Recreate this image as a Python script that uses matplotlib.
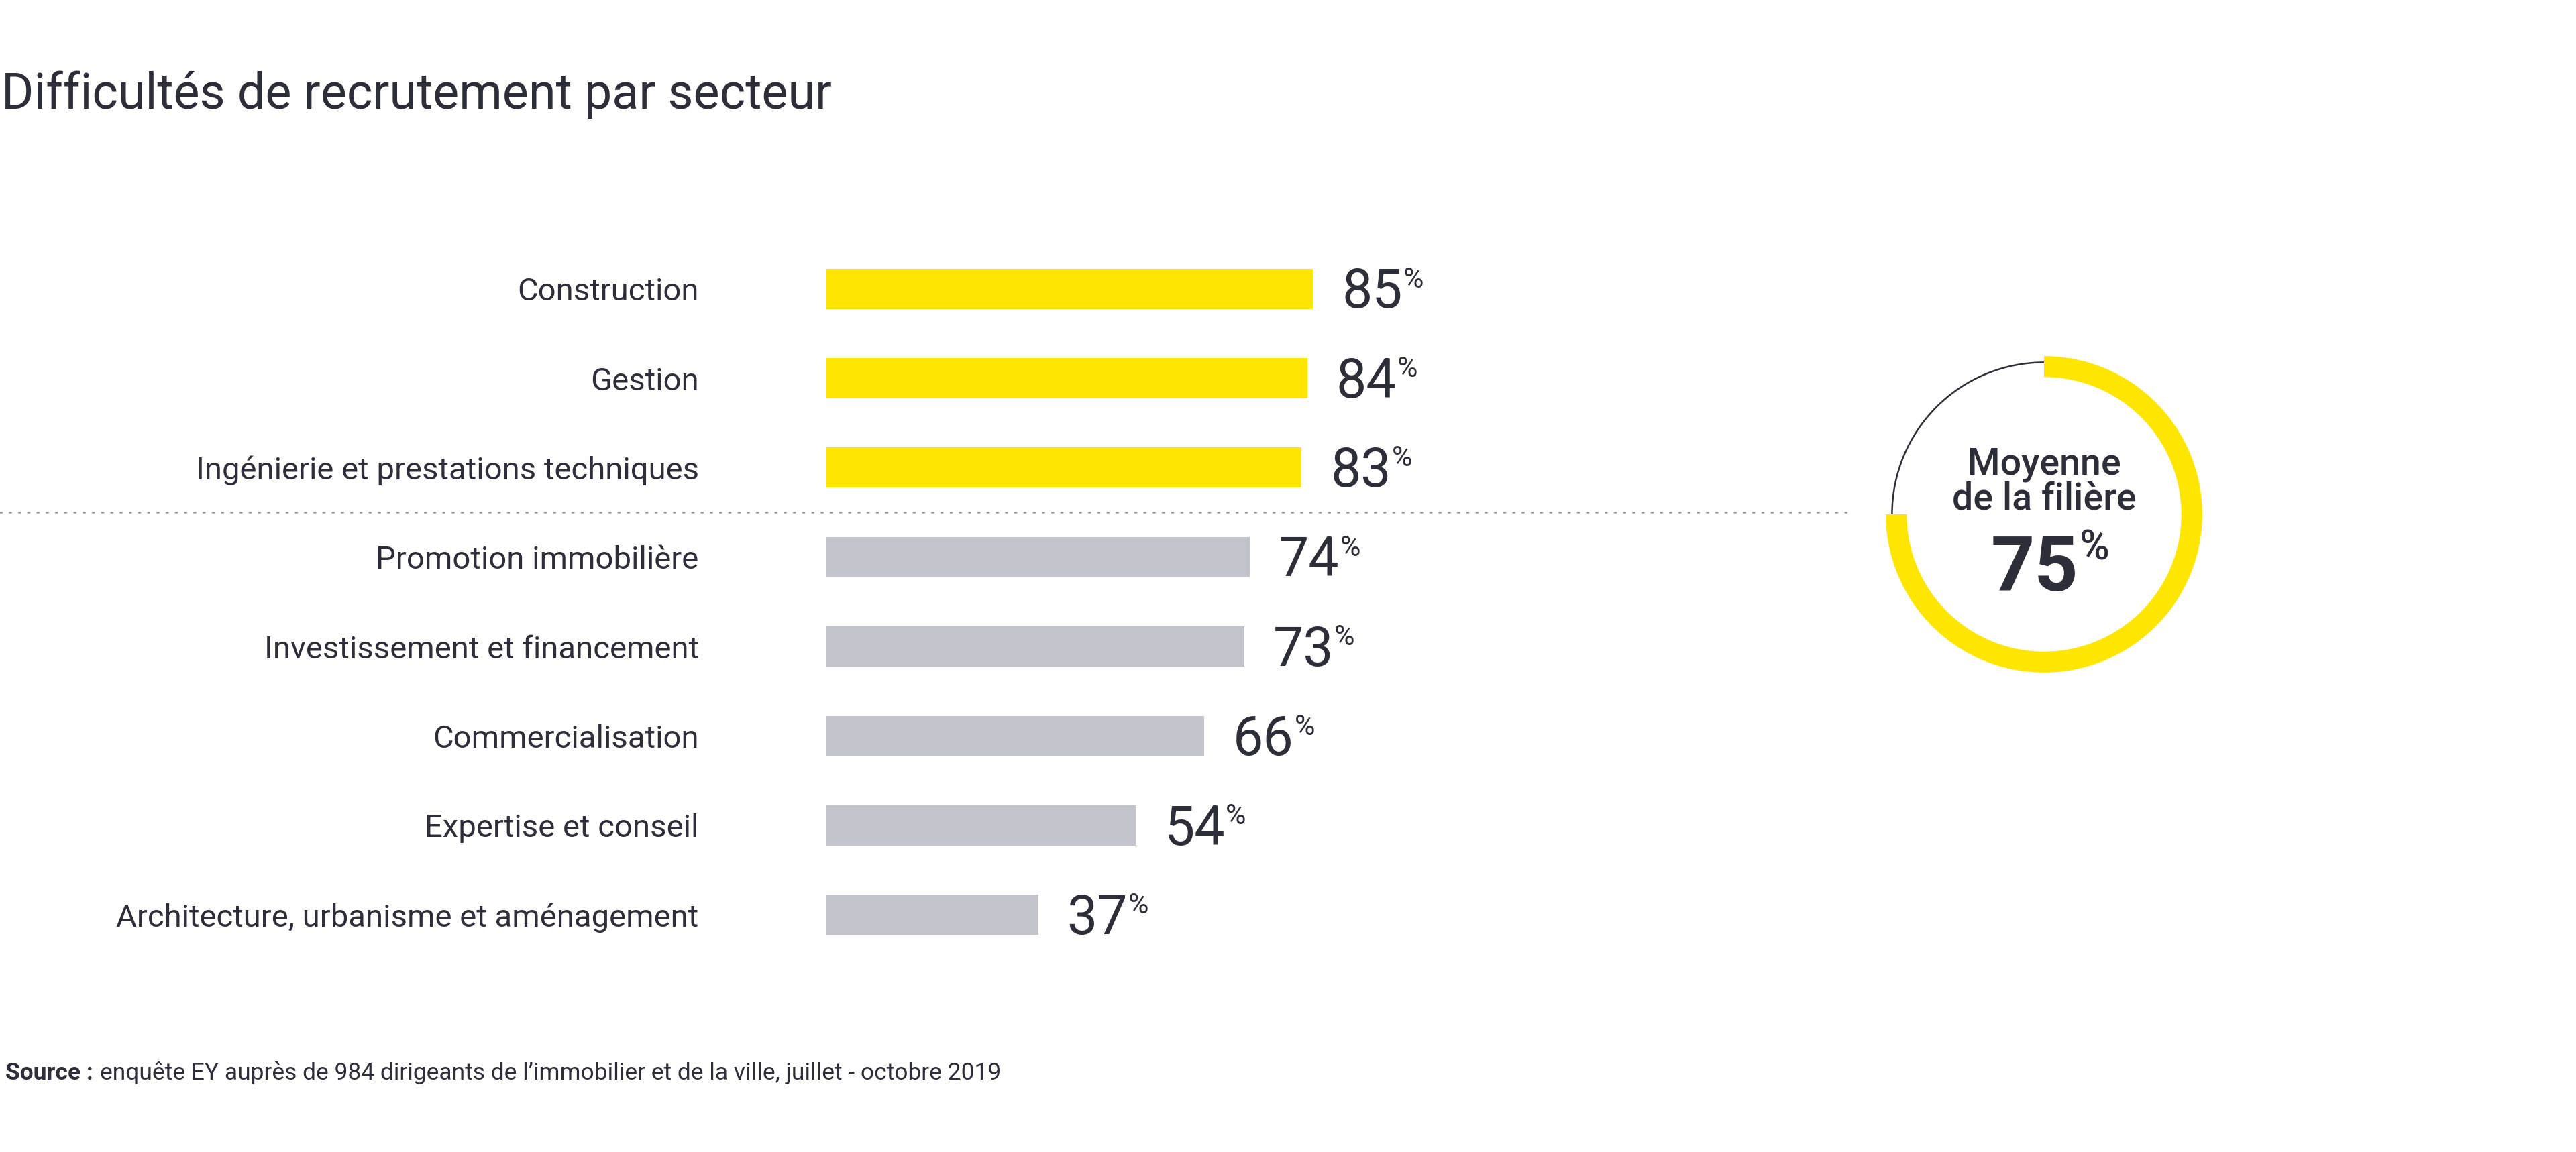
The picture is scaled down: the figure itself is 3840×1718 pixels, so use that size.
import matplotlib
matplotlib.use("Agg")
import matplotlib.pyplot as plt
from matplotlib.patches import Wedge, Arc
from matplotlib.transforms import blended_transform_factory

# ---------------- data ----------------
categories = ["Construction", "Gestion", "Ingénierie et prestations techniques",
              "Promotion immobilière", "Investissement et financement",
              "Commercialisation", "Expertise et conseil",
              "Architecture, urbanisme et aménagement"]
values = [85, 84, 83, 74, 73, 66, 54, 37]
highlight = [True, True, True, False, False, False, False, False]
average = 75
title = "Difficultés de recrutement par secteur"
avg_label = ["Moyenne", "de la filière"]
source_bold = "Source :"
source_text = "enquête EY auprès de 984 dirigeants de l’immobilier et de la ville, juillet - octobre 2019"

# ---------------- style ----------------
plt.rcParams['font.family'] = ['Roboto', 'DejaVu Sans']
YELLOW = "#FFE600"
GREY = "#C4C4CD"
DARK = "#2E2E38"
DOT = "#9A9AA3"

W, H = 3840, 1718
DPI = 100
fig = plt.figure(figsize=(W / DPI, H / DPI), dpi=DPI)
fig.patch.set_facecolor("white")


def fx(px):
    return px / W


def fy(py):
    return 1 - py / H


PT = DPI / 72.0  # px per point

# ---------------- bars ----------------
ax = fig.add_axes([fx(1232), fy(1431), fx(853), 1067 / H])
ypos = list(range(len(categories)))
ax.barh(ypos, values, height=0.45,
        color=[YELLOW if h else GREY for h in highlight], zorder=2)
ax.set_xlim(0, 100)
ax.set_ylim(len(categories) - 0.5, -0.5)
ax.set_yticks(ypos)
ax.set_yticklabels(categories, fontsize=34, fontweight='normal', color=DARK)
ax.tick_params(axis='y', length=0, pad=137)
ax.tick_params(axis='x', bottom=False, labelbottom=False)
for s in ax.spines.values():
    s.set_visible(False)
ax.patch.set_alpha(0)

# separator between highlighted and other sectors
nh = sum(highlight)
trans = blended_transform_factory(ax.transAxes, ax.transData)
ax.plot([-1232 / 853, (2763 - 1232) / 853], [nh - 0.5, nh - 0.5],
        transform=trans, clip_on=False, color=DOT, lw=1.8,
        linestyle=(0, (1, 4.5)), dash_capstyle='round')

renderer = fig.canvas.get_renderer()
VFS = 58
PFS = 30
for i, v in enumerate(values):
    t = ax.annotate(f"{v}", xy=(v, i), xytext=(31, -0.3555 * VFS),
                    textcoords='offset points', ha='left', va='baseline',
                    fontsize=VFS, fontweight='normal', color=DARK)
    bb = t.get_window_extent(renderer)
    yc = ax.transData.transform((v, i))[1]
    base = yc - 0.3555 * VFS * PT
    top = base + 0.711 * VFS * PT
    pbase = top + 3 - 0.711 * PFS * PT
    fig.text((bb.x1 + 1) / W, pbase / H, "%", ha='left', va='baseline',
             fontsize=PFS, fontweight='normal', color=DARK)

# ---------------- donut ----------------
ax2 = fig.add_axes([fx(2747), fy(1067), fx(600), 600 / H])
ax2.set_xlim(-1.25, 1.25)
ax2.set_ylim(-1.25, 1.25)
ax2.set_aspect('equal')
ax2.axis('off')
frac = average / 100.0
ax2.add_patch(Wedge((0, 0), 0.983, 90 - 360 * frac, 90, width=0.13,
                    facecolor=YELLOW, edgecolor='none'))
ax2.add_patch(Arc((0, 0), 2 * 0.944, 2 * 0.944, theta1=90,
                  theta2=90 + 360 * (1 - frac), color=DARK, lw=1.8))
ax2.text(0, 59 / 240, avg_label[0], ha='center', va='baseline',
         fontsize=40, fontweight='medium', color=DARK)
ax2.text(0, 7 / 240, avg_label[1], ha='center', va='baseline',
         fontsize=40, fontweight='medium', color=DARK)
ax2.text(0.2125, -114 / 240, f"{average}", ha='right', va='baseline',
         fontsize=82, fontweight='bold', color=DARK)
ax2.text(0.222, -68 / 240, "%", ha='left', va='baseline',
         fontsize=44, fontweight='medium', color=DARK)

# ---------------- title & source ----------------
fig.text(fx(2), fy(162), title, ha='left', va='baseline',
         fontsize=53, fontweight='normal', color=DARK)
sb = fig.text(fx(8), fy(1610), source_bold, ha='left', va='baseline',
              fontsize=25.5, fontweight='bold', color=DARK)
bbs = sb.get_window_extent(renderer)
fig.text((bbs.x1 + 10) / W, fy(1610), source_text, ha='left', va='baseline',
         fontsize=25.5, fontweight='normal', color=DARK)

fig.savefig("out.png", dpi=DPI, facecolor='white')
